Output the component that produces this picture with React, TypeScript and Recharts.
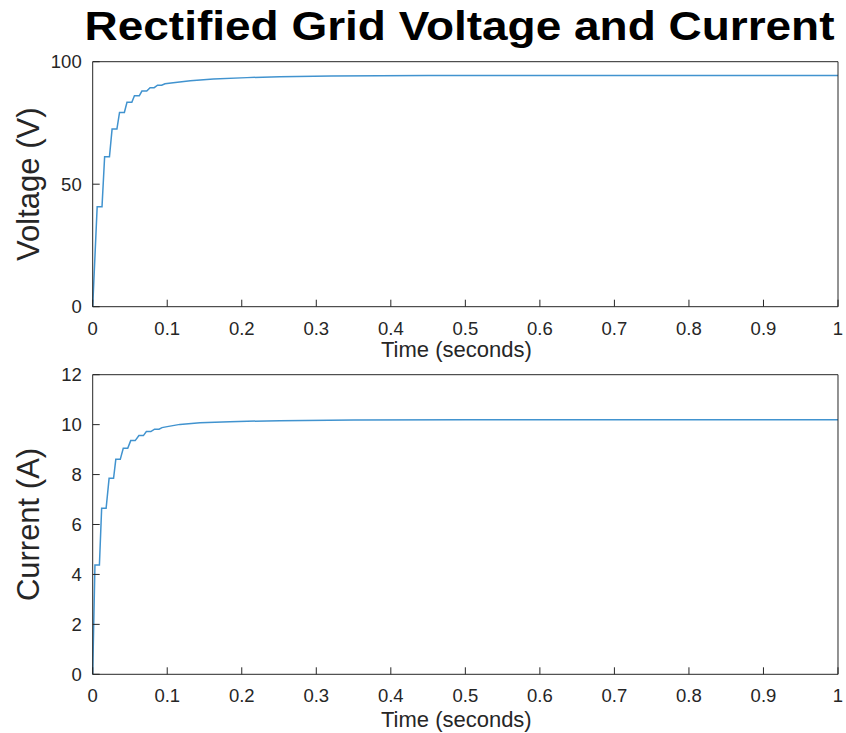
import { Line, LineChart, XAxis, YAxis } from 'recharts'

// time axis ticks shared by both panels
const timeTicks = [0, 0.1, 0.2, 0.3, 0.4, 0.5, 0.6, 0.7, 0.8, 0.9, 1]
const voltageTicks = [0, 50, 100]
const currentTicks = [0, 2, 4, 6, 8, 10, 12]

// rectified grid voltage (V)
const voltageTime = [
  0, 0.006, 0.0125, 0.016, 0.0225, 0.026, 0.0325, 0.036, 0.0425, 0.046, 0.0525,
  0.056, 0.0625, 0.066, 0.0725, 0.077, 0.0825, 0.087, 0.0925, 0.097, 0.108,
  0.131, 0.162, 0.207, 0.251, 0.32, 0.45, 0.6, 1,
]
const voltageValue = [
  0, 40.8, 40.8, 61.2, 61.2, 72.5, 72.5, 79.3, 79.3, 83.4, 83.4, 86.1, 86.1,
  88.0, 88.0, 89.4, 89.4, 90.4, 90.4, 91.0, 91.4, 92.2, 92.9, 93.5, 93.9, 94.2,
  94.4, 94.4, 94.4,
]

// grid current (A)
const currentTime = [
  0, 0.003, 0.009, 0.012, 0.018, 0.022, 0.028, 0.031, 0.037, 0.041, 0.047,
  0.051, 0.057, 0.062, 0.068, 0.072, 0.078, 0.083, 0.089, 0.093, 0.1, 0.117,
  0.144, 0.184, 0.251, 0.35, 0.5, 1,
]
const currentValue = [
  0, 4.38, 4.38, 6.65, 6.65, 7.85, 7.85, 8.61, 8.61, 9.05, 9.05, 9.36, 9.36,
  9.56, 9.56, 9.72, 9.72, 9.82, 9.82, 9.88, 9.92, 10.01, 10.08, 10.12, 10.16,
  10.19, 10.2, 10.2,
]

const voltageData = voltageTime.map((t, i) => ({ t, v: voltageValue[i] }))
const currentData = currentTime.map((t, i) => ({ t, v: currentValue[i] }))

const FONT = '"Liberation Sans", Arial, Helvetica, sans-serif'
const AXIS = '#262626'
const LINE = '#4193cf'

interface PanelProps {
  data: { t: number; v: number }[]
  yTicks: number[]
  yMax: number
  yLabel: string
  height: number
  marginTop: number
  xAxisHeight: number
  xLabelOffset: number
}

function Panel({
  data,
  yTicks,
  yMax,
  yLabel,
  height,
  marginTop,
  xAxisHeight,
  xLabelOffset,
}: PanelProps) {
  const tickStyle = { fontSize: 18.5, fill: AXIS, fontFamily: FONT }
  return (
    <LineChart
      width={846}
      height={height}
      data={data}
      margin={{ top: marginTop - 1, right: 7, bottom: 0, left: 0 }}
    >
      <XAxis
        dataKey="t"
        type="number"
        domain={[0, 1]}
        ticks={timeTicks}
        interval={0}
        height={xAxisHeight}
        tickSize={-7}
        tickMargin={22}
        tick={tickStyle}
        stroke={AXIS}
        label={{
          value: 'Time (seconds)',
          position: 'insideBottom',
          offset: xLabelOffset,
          dx: -9,
          style: { fontSize: 22, fill: AXIS, fontFamily: FONT },
        }}
      />
      {/* top and right axes only close the box, with inward ticks */}
      <XAxis
        xAxisId="top"
        dataKey="t"
        type="number"
        orientation="top"
        domain={[0, 1]}
        ticks={timeTicks}
        interval={0}
        height={1}
        tickSize={-7}
        tick={false}
        stroke={AXIS}
      />
      <YAxis
        type="number"
        domain={[0, yMax]}
        ticks={yTicks}
        interval={0}
        width={92.7}
        tickSize={-7}
        tickMargin={18}
        tick={tickStyle}
        stroke={AXIS}
        label={{
          value: yLabel,
          angle: -90,
          position: 'insideLeft',
          offset: 28,
          style: {
            fontSize: 31,
            fill: AXIS,
            fontFamily: FONT,
            textAnchor: 'middle',
          },
        }}
      />
      <YAxis
        yAxisId="right"
        type="number"
        orientation="right"
        domain={[0, yMax]}
        ticks={yTicks}
        interval={0}
        width={1}
        tickSize={-7}
        tick={false}
        stroke={AXIS}
      />
      <Line
        type="linear"
        dataKey="v"
        stroke={LINE}
        strokeWidth={1.5}
        dot={false}
        isAnimationActive={false}
      />
    </LineChart>
  )
}

export default function App() {
  return (
    <div
      style={{
        position: 'absolute',
        left: 0,
        top: 0,
        width: 846,
        height: 733,
        background: '#fff',
      }}
    >
      <svg
        width={846}
        height={60}
        style={{ position: 'absolute', left: 0, top: 0 }}
      >
        <text
          x={459.5}
          y={40}
          textAnchor="middle"
          fontSize={40}
          fontWeight="bold"
          fontFamily={FONT}
          fill="#000"
          textLength={750}
          lengthAdjust="spacingAndGlyphs"
        >
          Rectified Grid Voltage and Current
        </text>
      </svg>
      <div style={{ position: 'absolute', left: 0, top: 0 }}>
        <Panel
          data={voltageData}
          yTicks={voltageTicks}
          yMax={100}
          yLabel="Voltage (V)"
          height={362}
          marginTop={61.7}
          xAxisHeight={55.3}
          xLabelOffset={5}
        />
      </div>
      <div style={{ position: 'absolute', left: 0, top: 362 }}>
        <Panel
          data={currentData}
          yTicks={currentTicks}
          yMax={12}
          yLabel="Current (A)"
          height={370.3}
          marginTop={12.7}
          xAxisHeight={58}
          xLabelOffset={5.3}
        />
      </div>
    </div>
  )
}
